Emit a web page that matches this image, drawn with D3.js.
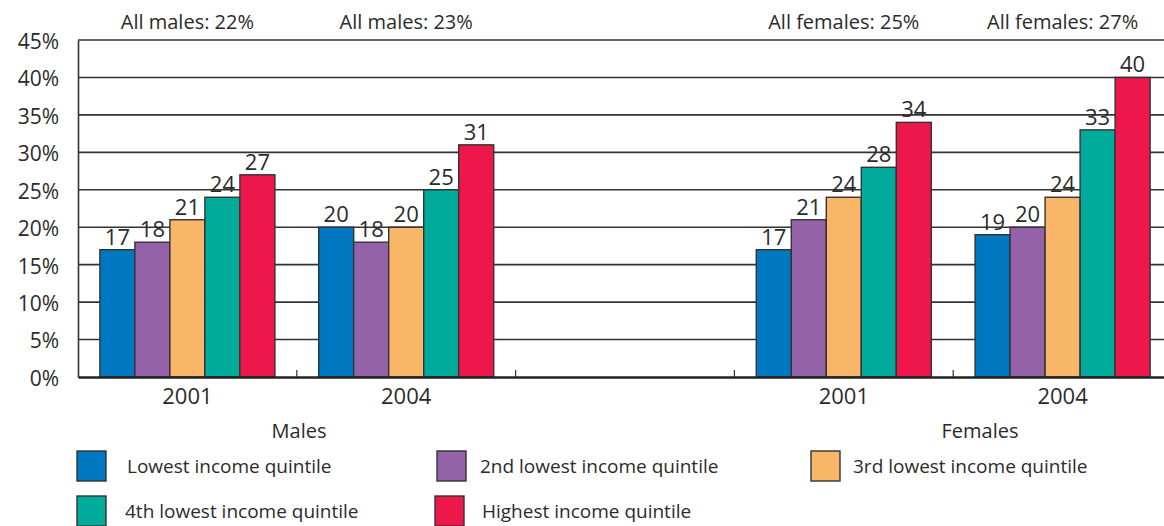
<!DOCTYPE html>
<html><head><meta charset="utf-8">
<script src="https://cdn.jsdelivr.net/npm/d3@7"></script>
<style>
body{margin:0;background:#fff;}
text{font-family:"Open Sans","Noto Sans",sans-serif;fill:#2b2b2b;}
</style></head>
<body><svg id="c" width="1164" height="526"></svg>
<script>
const groups = ["m2001","m2004","gap","f2001","f2004"];
const yearLabels = ["2001","2004","","2001","2004"];
const totals = ["All males: 22%","All males: 23%","","All females: 25%","All females: 27%"];
const seriesNames = ["Lowest income quintile","2nd lowest income quintile","3rd lowest income quintile","4th lowest income quintile","Highest income quintile"];
const colors = ["#0077c1","#9462a8","#f9b568","#00ab9b","#ee174b"];
const lowest  = [17,20,null,17,19];
const second  = [18,18,null,21,20];
const third   = [21,20,null,24,24];
const fourth  = [24,25,null,28,33];
const highest = [27,31,null,34,40];
const series = [lowest,second,third,fourth,highest];
const yTicks = [0,5,10,15,20,25,30,35,40,45];

const svg = d3.select("#c");
const pLeft = 78, pRight = 1172, pTop = 40, pBottom = 377;
const x0 = d3.scaleBand().domain(groups).range([pLeft,pRight]).padding(0);
const x1 = d3.scaleBand().domain(d3.range(5)).range([x0.bandwidth()*0.1, x0.bandwidth()*0.9]).padding(0);
const y = d3.scaleLinear().domain([0,45]).range([pBottom,pTop]);

// gridlines
svg.append("g").selectAll("line").data(yTicks.filter(d=>d>0)).join("line")
  .attr("x1",pLeft).attr("x2",1164).attr("y1",d=>y(d)).attr("y2",d=>y(d))
  .attr("stroke","#333").attr("stroke-width",1.6);

// y axis
const ya = svg.append("g").attr("transform",`translate(${pLeft},0)`)
  .call(d3.axisLeft(y).tickValues(yTicks).tickFormat(d=>d+"%").tickSize(0).tickPadding(19));
ya.select(".domain").attr("stroke","#333").attr("stroke-width",1.6);
ya.selectAll("text").attr("font-size",21).attr("dy","0.4em").attr("textLength",null)
  .style("font-family","'Open Sans',sans-serif").attr("fill","#2b2b2b");

// bars
groups.forEach((g,gi)=>{
  series.forEach((s,si)=>{
    const v = s[gi];
    if(v==null) return;
    const bx = x0(g)+x1(si);
    svg.append("rect").attr("x",bx).attr("y",y(v)).attr("width",x1.bandwidth()).attr("height",y(0)-y(v))
      .attr("fill",colors[si]).attr("stroke","#333").attr("stroke-width",1.4);
    svg.append("text").attr("x",bx+x1.bandwidth()/2).attr("y",y(v)-5).attr("text-anchor","middle")
      .attr("font-size",22).text(v);
  });
});

// x axis
const xa = svg.append("g").attr("transform",`translate(0,${pBottom})`)
  .call(d3.axisBottom(x0).tickFormat((d,i)=>yearLabels[i]).tickSize(0).tickPadding(11));
xa.select(".domain").attr("stroke","#222").attr("stroke-width",2.5);
xa.selectAll("text").attr("font-size",22).style("font-family","'Open Sans',sans-serif").attr("fill","#2b2b2b");
// boundary ticks
svg.append("g").selectAll("line").data(groups.slice(1)).join("line")
  .attr("x1",d=>x0(d)).attr("x2",d=>x0(d)).attr("y1",pBottom).attr("y2",pBottom-7)
  .attr("stroke","#333").attr("stroke-width",1.2);

// totals
svg.append("g").selectAll("text").data(groups).join("text")
  .attr("x",(d)=>x0(d)+x0.bandwidth()/2).attr("y",29).attr("text-anchor","middle")
  .attr("font-size",20).text((d,i)=>totals[i]);

// sex labels
svg.append("text").attr("x",299).attr("y",438).attr("text-anchor","middle").attr("font-size",20).text("Males");
svg.append("text").attr("x",980).attr("y",438).attr("text-anchor","middle").attr("font-size",20).text("Females");

// legend
const legPos = [[77,451,127],[437,451,480],[811,451,853],[77,496,125],[435,496,482]];
seriesNames.forEach((n,i)=>{
  const p = legPos[i];
  svg.append("rect").attr("x",p[0]).attr("y",p[1]).attr("width",29).attr("height",30)
    .attr("fill",colors[i]).attr("stroke","#333").attr("stroke-width",1.4);
  svg.append("text").attr("x",p[2]).attr("y",p[1]+22).attr("font-size",19).text(n);
});
</script></body></html>
